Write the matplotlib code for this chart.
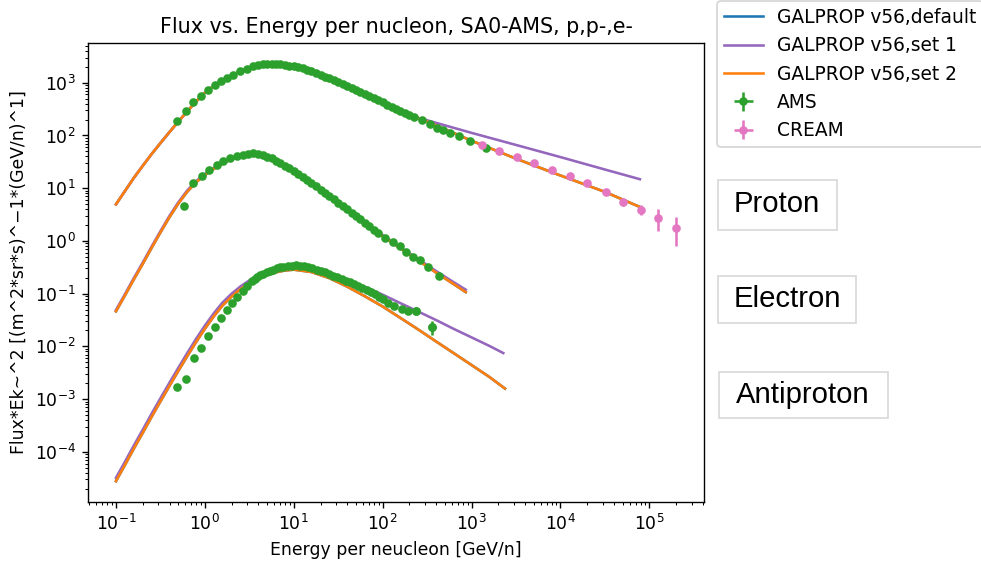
import matplotlib
matplotlib.use("Agg")
import matplotlib.pyplot as plt
from matplotlib.patches import Rectangle

# ---------------- data ----------------
# Model curves: energy per nucleon [GeV/n]
E_model_p = [0.1, 0.126, 0.158, 0.200, 0.251, 0.316, 0.398, 0.501, 0.631, 0.794, 1.0,
             1.26, 1.58, 2.0, 2.51, 3.16, 3.98, 5.01, 6.31, 7.94, 10.0, 15.8, 25.1, 39.8,
             63.1, 100, 158, 251, 316, 1000, 3162, 10000, 31623, 78300]
p_set2 = [4.95, 8.81, 15.5, 26.6, 44.2, 71.6, 115, 182, 285, 437, 646,
          871, 1122, 1380, 1660, 1905, 2138, 2239, 2265, 2188, 2042, 1641, 1202, 851,
          603, 422, 292, 214, 184, 79.4, 36.3, 17.4, 8.51, 4.40]
p_set1 = [4.95, 8.81, 15.5, 26.6, 44.2, 71.6, 115, 182, 285, 437, 646,
          871, 1122, 1380, 1660, 1905, 2138, 2239, 2265, 2188, 2042, 1641, 1202, 851,
          603, 422, 292, 214, 194, 112, 66.1, 38.9, 22.6, 14.8]

E_model_e = [0.1, 0.126, 0.158, 0.200, 0.251, 0.316, 0.398, 0.501, 0.631, 0.794, 1.0,
             1.26, 1.58, 2.0, 2.51, 3.16, 3.98, 5.01, 6.31, 10.0, 15.8, 25.1, 39.8, 63.1,
             100, 158, 251, 398, 631, 859]
e_set2 = [0.0462, 0.0923, 0.184, 0.367, 0.733, 1.445, 2.79, 5.07, 8.51, 12.9, 17.8,
          23.2, 29.2, 35.5, 40.3, 43.2, 43.7, 39.8, 33.9, 21.4, 12.6, 7.16, 3.98, 2.19,
          1.23, 0.724, 0.427, 0.251, 0.151, 0.107]
e_set1 = [0.0490, 0.0977, 0.195, 0.389, 0.776, 1.53, 2.95, 5.37, 9.02, 13.6, 18.6,
          24.2, 30.2, 36.5, 41.2, 43.9, 44.2, 40.3, 34.3, 21.6, 12.7, 7.33, 4.12, 2.29,
          1.29, 0.759, 0.452, 0.269, 0.164, 0.119]

E_model_ap2 = [0.1, 0.126, 0.158, 0.200, 0.251, 0.316, 0.398, 0.501, 0.631, 0.794, 1.0,
               1.26, 1.58, 2.0, 2.51, 3.16, 3.98, 5.01, 6.31, 7.94, 10.0, 15.8, 25.1,
               39.8, 63.1, 100, 158, 251, 398, 631, 1000, 1585, 2377]
ap_set2 = [2.78e-5, 5.62e-5, 1.135e-4, 2.29e-4, 4.57e-4, 9.02e-4, 1.76e-3, 3.39e-3,
           6.46e-3, 0.0120, 0.0216, 0.0372, 0.0596, 0.0881, 0.122, 0.158, 0.195, 0.226,
           0.254, 0.275, 0.285, 0.257, 0.197, 0.136, 0.0891, 0.0569, 0.0347, 0.0209,
           0.0124, 0.00741, 0.00442, 0.00263, 0.00158]
E_model_ap1 = [0.1, 0.126, 0.158, 0.200, 0.251, 0.316, 0.398, 0.501, 0.631, 0.794, 1.0,
               1.26, 1.58, 2.0, 2.51, 3.16, 3.98, 5.01, 6.31, 7.94, 10.0, 15.8, 25.1,
               39.8, 63.1, 100, 158, 251, 398, 631, 1000, 1585, 2275]
ap_set1 = [3.22e-5, 6.46e-5, 1.30e-4, 2.63e-4, 5.25e-4, 1.035e-3, 2.02e-3, 3.89e-3,
           7.41e-3, 0.0138, 0.0248, 0.0425, 0.0679, 0.100, 0.137, 0.178, 0.219, 0.254,
           0.285, 0.309, 0.320, 0.302, 0.245, 0.182, 0.135, 0.0955, 0.0661, 0.0457,
           0.0316, 0.0214, 0.0148, 0.0102, 0.00746]

# AMS data
E_ams_p = [0.482, 0.608, 0.741, 0.912, 1.09, 1.30, 1.51, 1.76, 2.09, 2.48, 2.95, 3.51,
           3.98, 4.47, 5.01, 5.62, 6.31, 7.08, 7.94, 8.91, 10.0, 11.2, 12.6, 14.1, 15.8,
           17.8, 20.0, 22.4, 25.1, 28.2, 31.6, 35.5, 39.8, 44.7, 50.1, 56.2, 63.1, 70.8,
           79.4, 89.1, 100, 112, 126, 141, 158, 178, 200, 224, 274, 340, 405, 481, 571,
           728, 959, 1452]
F_ams_p = [188, 296, 427, 571, 721, 897, 1067, 1233, 1429, 1652, 1858, 2056,
           2163, 2228, 2265, 2280, 2270, 2239, 2188, 2123, 2051, 1959, 1871, 1770, 1652,
           1535, 1419, 1309, 1208, 1107, 1016, 933, 857, 789, 723, 664, 607, 557,
           511, 466, 425, 386, 352, 320, 290, 266, 245, 229, 200, 168, 141, 126, 111,
           96.6, 78.7, 58.9]

E_ams_e = [0.582, 0.741, 0.920, 1.12, 1.36, 1.61, 1.91, 2.28, 2.70, 3.09, 3.51, 3.98,
           4.47, 5.01, 5.62, 6.31, 7.08, 7.94, 8.91, 10.0, 11.2, 12.6, 14.1, 15.8, 17.8,
           20.0, 22.4, 25.1, 28.2, 31.6, 35.5, 39.8, 44.7, 50.1, 56.2, 63.1, 70.8, 79.4,
           89.1, 106, 132, 157, 183, 217, 263, 326, 430]
F_ams_e = [4.59, 12.6, 17.1, 21.9, 28.1, 32.8, 36.9, 40.3, 43.5, 45.2, 45.7, 44.5,
           42.2, 39.6, 36.7, 33.5, 30.1, 26.9, 24.0, 21.2, 18.7, 16.4, 14.3, 12.5, 10.8,
           9.42, 8.20, 7.11, 6.12, 5.31, 4.62, 3.98, 3.45, 2.98, 2.57, 2.20, 1.88, 1.62,
           1.40, 1.16, 0.953, 0.791, 0.608, 0.495, 0.442, 0.320, 0.213]

E_ams_ap = [0.485, 0.608, 0.748, 0.904, 1.09, 1.30, 1.52, 1.77, 2.03, 2.32, 2.66, 3.00,
            3.41, 3.63, 3.89, 4.17, 4.54, 4.95, 5.40, 5.89, 6.43, 7.00, 7.62, 8.51, 9.46,
            10.5, 11.7, 13.0, 14.6, 16.2, 18.1, 20.2, 22.4, 25.1, 27.8, 30.9, 34.6, 38.5,
            42.9, 47.9, 53.2, 58.9, 66.1, 73.3, 81.8, 90.2, 100, 116, 135, 163, 191, 235,
            356]
F_ams_ap = [1.69e-3, 2.40e-3, 6.10e-3, 9.44e-3, 0.0155, 0.0237, 0.0344, 0.0497, 0.0664,
            0.0863, 0.112, 0.142, 0.173, 0.191, 0.207, 0.221, 0.239, 0.254, 0.269, 0.285,
            0.302, 0.314, 0.325, 0.333, 0.340, 0.343, 0.340, 0.331, 0.320, 0.303, 0.285,
            0.269, 0.254, 0.236, 0.219, 0.204, 0.189, 0.176, 0.164, 0.150, 0.138, 0.126,
            0.116, 0.106, 0.0970, 0.0881, 0.0804, 0.0675, 0.0582, 0.0504, 0.0461, 0.0468,
            0.0232]
# AMS points with visible error bars
E_ams_err = [235, 356]
F_ams_err = [0.0468, 0.0232]
F_ams_yerr = [0.005, 0.0068]

# CREAM proton data
E_cream = [1297, 2032, 3206, 5070, 8091, 12680, 20040, 32210, 50470, 80540, 125900, 199100]
F_cream = [66.1, 50.8, 38.5, 30.1, 22.5, 17.1, 12.6, 8.36, 5.47, 3.93, 2.77, 1.79]
F_cream_err = [1.0, 0.8, 0.6, 0.5, 0.4, 0.4, 0.4, 0.4, 0.9, 0.8, 1.2, 1.0]

labels_models = ["GALPROP v56,default", "GALPROP v56,set 1", "GALPROP v56,set 2"]
species_labels = ["Proton", "Electron", "Antiproton"]

# ---------------- figure ----------------
DPI = 124
fig = plt.figure(figsize=(981 / DPI, 566 / DPI), dpi=DPI)
ax = fig.add_axes([0.0897, 0.1131, 0.6279, 0.8109])
ax.set_xscale("log")
ax.set_yscale("log")

c_def, c_s1, c_s2 = "#1f77b4", "#9467bd", "#ff7f0e"
c_ams, c_cream = "#2ca02c", "#e377c2"

# default model (identical to set 2, hidden beneath it)
ax.plot(E_model_p, p_set2, color=c_def, label=labels_models[0])
ax.plot(E_model_e, e_set2, color=c_def)
ax.plot(E_model_ap2, ap_set2, color=c_def)
# set 1
ax.plot(E_model_p, p_set1, color=c_s1, label=labels_models[1])
ax.plot(E_model_e, e_set1, color=c_s1)
ax.plot(E_model_ap1, ap_set1, color=c_s1)
# set 2
ax.plot(E_model_p, p_set2, color=c_s2, label=labels_models[2])
ax.plot(E_model_e, e_set2, color=c_s2)
ax.plot(E_model_ap2, ap_set2, color=c_s2)

# data
ax.errorbar(E_ams_p, F_ams_p, xerr=0, yerr=0, fmt="o", ms=4, color=c_ams, label="AMS")
ax.errorbar(E_ams_e, F_ams_e, xerr=0, yerr=0, fmt="o", ms=4, color=c_ams)
ax.errorbar(E_ams_ap, F_ams_ap, xerr=0, yerr=0, fmt="o", ms=4, color=c_ams)
ax.errorbar(E_ams_err, F_ams_err, yerr=F_ams_yerr, fmt="o", ms=4, color=c_ams)
ax.errorbar(E_cream, F_cream, xerr=0, yerr=F_cream_err, fmt="o", ms=4, color=c_cream,
            label="CREAM")

ax.set_title("Flux vs. Energy per nucleon, SA0-AMS, p,p-,e-")
ax.set_xlabel("Energy per neucleon [GeV/n]")
ax.set_ylabel("Flux*Ek~^2 [(m^2*sr*s)^\u22121*(GeV/n)^1]")

ax.legend(loc="lower left", bbox_to_anchor=(0.7312, 0.7408),
          bbox_transform=fig.transFigure, borderaxespad=0, fontsize=10.8,
          handlelength=2.1, handletextpad=0.75, borderpad=0.35)

# species label boxes
boxes = [
    (0.7322, 0.5936, 0.1213, 0.0883, 0.7475, 0.6396),
    (0.7322, 0.4299, 0.1404, 0.0825, 0.7475, 0.4717),
    (0.7329, 0.2620, 0.1726, 0.0813, 0.7500, 0.3027),
]
for (bx, by, bw, bh, tx, ty), name in zip(boxes, species_labels):
    fig.add_artist(Rectangle((bx, by), bw, bh, transform=fig.transFigure,
                             facecolor="white", edgecolor="#d9d9d9", linewidth=1))
    fig.text(tx, ty, name, fontsize=17, family=["Liberation Sans", "DejaVu Sans"],
             ha="left", va="center", color="black")

fig.savefig("out.png", dpi=DPI)
